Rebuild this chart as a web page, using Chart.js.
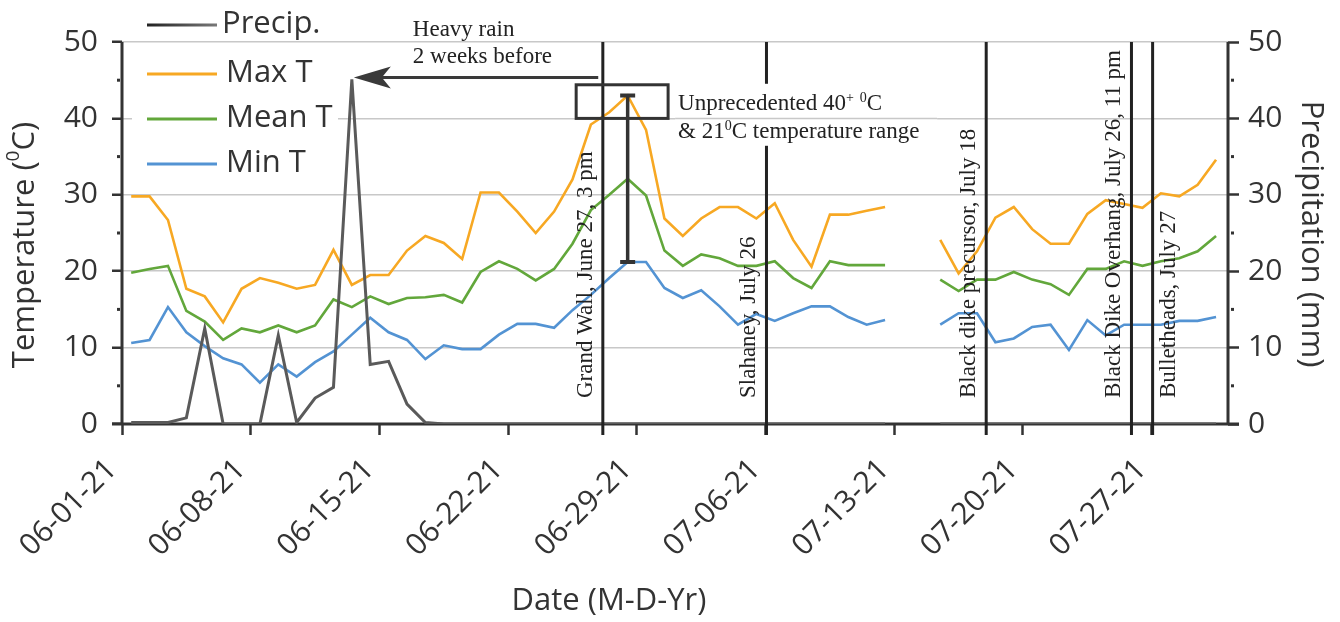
<!DOCTYPE html>
<html>
<head>
<meta charset="utf-8">
<script src="https://cdn.jsdelivr.net/npm/chart.js@4.4.1/dist/chart.umd.min.js"></script>
<style>
  html, body { margin: 0; padding: 0; background: #fff; }
  #wrap { width: 1340px; height: 622px; }
</style>
</head>
<body>
<div id="wrap"><canvas id="chart" width="1340" height="622"></canvas></div>
<script>
// daily values, June 1 .. July 30 2021 (null = no record)
const tickDays = [0, 7, 14, 21, 28, 35, 42, 49, 56];
const dayLabels = ["06-01-21", "06-08-21", "06-15-21", "06-22-21", "06-29-21", "07-06-21", "07-13-21", "07-20-21", "07-27-21"];

const precip = [0.2, 0.2, 0.2, 0.8, 12.5, 0, 0, 0, 11.6, 0.2, 3.4, 4.8, 45.1, 7.8, 8.2, 2.6, 0.2, 0, 0, 0,
  0, 0, 0, 0, 0, 0, 0, 0, 0, 0, 0, 0, 0, 0, 0, 0, 0, 0, 0, 0,
  0, 0, null, null, 0, 0, 0, 0, 0, 0, 0, 0, 0, 0, 0, 0, 0, 0, 0, 0];
const maxT = [29.8, 29.8, 26.7, 17.7, 16.7, 13.3, 17.7, 19.1, 18.5, 17.7, 18.2, 22.8, 18.2, 19.5, 19.5, 22.7, 24.6, 23.7, 21.6, 30.3,
  30.3, 27.8, 25.0, 27.8, 32.0, 39.2, 40.8, 43.0, 38.5, 26.9, 24.6, 26.9, 28.4, 28.4, 26.9, 28.9, 24.1, 20.6, 27.4, 27.4,
  27.9, 28.4, null, null, 24.1, 19.7, 22.6, 27.0, 28.4, 25.5, 23.6, 23.6, 27.5, 29.3, 28.8, 28.3, 30.2, 29.8, 31.3, 34.6];
const meanT = [19.8, 20.3, 20.7, 14.8, 13.4, 11.0, 12.5, 12.0, 12.9, 12.0, 12.9, 16.3, 15.3, 16.7, 15.7, 16.5, 16.6, 16.9, 15.9, 19.9,
  21.3, 20.3, 18.8, 20.3, 23.6, 28.0, 30.0, 32.1, 29.9, 22.7, 20.7, 22.2, 21.7, 20.7, 20.7, 21.3, 19.1, 17.8, 21.3, 20.8,
  20.8, 20.8, null, null, 18.9, 17.4, 18.9, 18.9, 19.9, 18.9, 18.3, 16.9, 20.3, 20.3, 21.3, 20.7, 21.3, 21.7, 22.6, 24.6];
const minT = [10.6, 11.0, 15.3, 12.0, 10.2, 8.6, 7.8, 5.4, 7.8, 6.2, 8.1, 9.5, 11.7, 13.9, 12.0, 11.0, 8.5, 10.3, 9.8, 9.8,
  11.7, 13.1, 13.1, 12.6, 14.9, 16.9, 19.1, 21.2, 21.2, 17.8, 16.5, 17.5, 15.4, 13.0, 14.4, 13.5, 14.5, 15.4, 15.4, 14.0,
  13.0, 13.6, null, null, 13.0, 14.5, 14.5, 10.7, 11.2, 12.7, 13.0, 9.7, 13.6, 11.6, 13.0, 13.0, 13.0, 13.5, 13.5, 14.0];

// climbing events (days after June 1)
const eventDays = [26.15, 35.05, 47.0, 54.9, 56.05];
const eventLabels = ["Grand Wall, June 27, 3 pm", "Slahaney, July 26", "Black dike precursor, July 18",
  "Black Dike Overhang, July 26, 11 pm", "Bulletheads, July 27"];

const heatDay = 27;              // day of the 43 / 21 range bar
const heatBoxDays = [24.7, 29.7];
const heatBoxTemps = [40.0, 44.4];
const arrowFromDay = 25.9;

const SANS = "'Open Sans', 'Noto Sans', sans-serif";
const SERIF = "'Liberation Serif', 'DejaVu Serif', serif";
const INK = "#333333";
const colors = { precip: "#5a5a5a", max: "#f7a823", mean: "#62a73b", min: "#5393d3" };

const series = (arr) => arr.map((v, i) => ({ x: i + 0.5, y: v }));

function richWidth(ctx, parts, size, family) {
  let w = 0;
  for (const p of parts) {
    ctx.font = `${p.sup ? Math.round(size * 0.62) : size}px ${family}`;
    w += ctx.measureText(p.t).width;
  }
  return w;
}

function drawRich(ctx, parts, x, y, size, family) {
  let cx = x;
  for (const p of parts) {
    const s = p.sup ? Math.round(size * 0.62) : size;
    ctx.font = `${s}px ${family}`;
    ctx.fillText(p.t, cx, p.sup ? y - size * 0.36 : y);
    cx += ctx.measureText(p.t).width;
  }
}

const decor = {
  id: "decor",
  beforeDatasetsDraw(chart) {
    const { ctx, chartArea: a } = chart;
    ctx.save();
    ctx.strokeStyle = INK;
    ctx.lineWidth = 3;
    ctx.beginPath();
    ctx.moveTo(a.left, a.top); ctx.lineTo(a.left, a.bottom);
    ctx.moveTo(a.right, a.top); ctx.lineTo(a.right, a.bottom);
    ctx.moveTo(a.left - 10, a.bottom); ctx.lineTo(a.right + 11, a.bottom);
    ctx.stroke();
    // minor ticks
    const y = chart.scales.y;
    ctx.fillStyle = INK;
    for (let v = 5; v < 50; v += 10) {
      const py = y.getPixelForValue(v);
      ctx.fillRect(a.left - 5, py - 1.5, 3, 3);
      ctx.fillRect(a.right + 3, py - 1.5, 3, 3);
    }
    ctx.restore();
  },
  afterDatasetsDraw(chart) {
    const { ctx, chartArea: a, scales } = chart;
    const x = scales.x, y = scales.y, y2 = scales.y2;
    ctx.save();

    // legend
    ctx.fillStyle = "#fff";
    ctx.fillRect(132, 50, 206, 130);
    const legend = [["Precip.", colors.precip, 25], ["Max T", colors.max, 74], ["Mean T", colors.mean, 119], ["Min T", colors.min, 164]];
    ctx.textBaseline = "middle";
    ctx.textAlign = "left";
    for (const [label, col, ly] of legend) {
      if (label === "Precip.") {
        const g = ctx.createLinearGradient(147, 0, 216, 0);
        g.addColorStop(0, "#222"); g.addColorStop(1, "#777");
        ctx.strokeStyle = g;
      } else ctx.strokeStyle = col;
      ctx.lineWidth = 3;
      ctx.beginPath(); ctx.moveTo(147, ly); ctx.lineTo(217, ly); ctx.stroke();
      ctx.fillStyle = INK;
      ctx.font = `31px ${SANS}`;
      ctx.fillText(label, label === "Precip." ? 222 : 226, ly - 1);
    }

    // event lines
    ctx.strokeStyle = "#222";
    ctx.lineWidth = 3;
    eventDays.forEach((d) => {
      const px = x.getPixelForValue(d);
      ctx.beginPath(); ctx.moveTo(px, a.top); ctx.lineTo(px, a.bottom + 11); ctx.stroke();
    });

    // unprecedented heat box + range bar
    const bx0 = x.getPixelForValue(heatBoxDays[0]), bx1 = x.getPixelForValue(heatBoxDays[1]);
    const by0 = y.getPixelForValue(heatBoxTemps[1]), by1 = y.getPixelForValue(heatBoxTemps[0]);
    ctx.strokeStyle = INK;
    ctx.lineWidth = 3;
    ctx.strokeRect(bx0, by0, bx1 - bx0, by1 - by0);
    const ex = x.getPixelForValue(heatDay + 0.5);
    const eTop = y.getPixelForValue(maxT[heatDay]), eBot = y.getPixelForValue(minT[heatDay]);
    ctx.lineWidth = 3.5;
    ctx.beginPath(); ctx.moveTo(ex, eTop); ctx.lineTo(ex, eBot); ctx.stroke();
    ctx.lineWidth = 4;
    ctx.beginPath();
    ctx.moveTo(ex - 7.5, eTop); ctx.lineTo(ex + 7.5, eTop);
    ctx.moveTo(ex - 7.5, eBot); ctx.lineTo(ex + 7.5, eBot);
    ctx.stroke();

    // text next to the box
    const tx = bx1 + 10;
    ctx.fillStyle = "#fff";
    ctx.fillRect(tx - 3, by0 - 1, 262, 62);
    const g40 = y.getPixelForValue(40);
    ctx.strokeStyle = "#c8c8c8"; ctx.lineWidth = 1.5;
    ctx.beginPath(); ctx.moveTo(tx - 3, g40); ctx.lineTo(tx + 259, g40); ctx.stroke();
    ctx.fillStyle = "#222";
    ctx.textBaseline = "alphabetic";
    drawRich(ctx, [{ t: "Unprecedented 40" }, { t: "+", sup: true }, { t: " " }, { t: "0", sup: true }, { t: "C" }], tx, by1 - 8, 23, SERIF);
    drawRich(ctx, [{ t: "& 21" }, { t: "0", sup: true }, { t: "C temperature range" }], tx, by1 + 20, 23, SERIF);

    // heavy rain arrow
    const peakIdx = precip.indexOf(Math.max(...precip.filter((v) => v !== null)));
    const tipX = x.getPixelForValue(peakIdx + 0.5), tipY = y2.getPixelForValue(precip[peakIdx]) - 2;
    const tailX = x.getPixelForValue(arrowFromDay);
    ctx.strokeStyle = "#3a3a3a"; ctx.fillStyle = "#3a3a3a"; ctx.lineWidth = 3;
    ctx.beginPath(); ctx.moveTo(tailX, tipY); ctx.lineTo(tipX + 25, tipY); ctx.stroke();
    ctx.beginPath();
    ctx.moveTo(tipX + 2, tipY);
    ctx.lineTo(tipX + 39, tipY - 11);
    ctx.lineTo(tipX + 30, tipY);
    ctx.lineTo(tipX + 39, tipY + 11);
    ctx.closePath(); ctx.fill();
    ctx.fillStyle = "#222";
    ctx.font = `23px ${SERIF}`;
    ctx.fillText("Heavy rain", tipX + 61, tipY - 41);
    ctx.fillText("2 weeks before", tipX + 61, tipY - 14);

    // event labels, vertical
    const offs = [-11, -11, -11, -11, 22];
    eventDays.forEach((d, i) => {
      const px = x.getPixelForValue(d) + offs[i];
      ctx.save();
      ctx.translate(px, a.bottom - 26);
      ctx.rotate(-Math.PI / 2);
      ctx.font = `23px ${SERIF}`;
      ctx.fillStyle = "#222";
      ctx.textAlign = "left";
      ctx.fillText(eventLabels[i], 0, 0);
      ctx.restore();
    });

    // axis titles
    ctx.fillStyle = INK;
    ctx.textBaseline = "middle";
    const tParts = [{ t: "Temperature (" }, { t: "0", sup: true }, { t: "C)" }];
    const tw = richWidth(ctx, tParts, 31, SANS);
    ctx.save();
    ctx.translate(25, 245);
    ctx.rotate(-Math.PI / 2);
    ctx.textAlign = "left";
    drawRich(ctx, tParts, -tw / 2, 0, 31, SANS);
    ctx.restore();

    ctx.save();
    ctx.translate(1311, 234);
    ctx.rotate(Math.PI / 2);
    ctx.textAlign = "center";
    ctx.font = `31px ${SANS}`;
    ctx.fillText("Precipitation (mm)", 0, 0);
    ctx.restore();

    ctx.textAlign = "center";
    ctx.font = `31px ${SANS}`;
    ctx.fillText("Date (M-D-Yr)", 609, 601);
    ctx.restore();
  }
};

const yTickFont = { family: SANS, size: 30 };
const xTickFont = { family: SANS, size: 30 };

function draw() {
  new Chart(document.getElementById("chart"), {
    type: "line",
    data: {
      datasets: [
        { label: "Precip.", data: series(precip), yAxisID: "y2", borderColor: colors.precip, borderWidth: 3 },
        { label: "Max T", data: series(maxT), yAxisID: "y", borderColor: colors.max, borderWidth: 2.6 },
        { label: "Mean T", data: series(meanT), yAxisID: "y", borderColor: colors.mean, borderWidth: 2.6 },
        { label: "Min T", data: series(minT), yAxisID: "y", borderColor: colors.min, borderWidth: 2.6 },
      ],
    },
    options: {
      responsive: false,
      animation: false,
      devicePixelRatio: 1,
      layout: { padding: { top: 42 } },
      plugins: { legend: { display: false }, tooltip: { enabled: false } },
      elements: { point: { radius: 0 }, line: { tension: 0, borderJoinStyle: "miter", fill: false } },
      scales: {
        x: {
          type: "linear", min: 0, max: 60.15,
          afterBuildTicks: (s) => { s.ticks = tickDays.map((v) => ({ value: v })); },
          afterFit: (s) => { s.height = 198; },
          border: { display: false },
          grid: { drawOnChartArea: false, drawTicks: true, tickLength: 11, tickColor: INK, tickWidth: 2.5 },
          ticks: { autoSkip: false, minRotation: 45, maxRotation: 45, font: xTickFont, color: INK, padding: 17,
            labelOffset: -10, callback: (v) => dayLabels[tickDays.indexOf(v)] },
        },
        y: {
          position: "left", min: 0, max: 50,
          afterFit: (s) => { s.width = 122; },
          border: { display: false },
          grid: { color: "#c8c8c8", lineWidth: 1.5, tickLength: 10, tickColor: INK, tickWidth: 2.5 },
          ticks: { stepSize: 10, font: yTickFont, color: INK, padding: 14 },
        },
        y2: {
          position: "right", min: 0, max: 50,
          afterFit: (s) => { s.width = 112; },
          border: { display: false },
          grid: { drawOnChartArea: false, tickLength: 11, tickColor: INK, tickWidth: 2.5 },
          ticks: { stepSize: 10, font: yTickFont, color: INK, padding: 9 },
        },
      },
    },
    plugins: [decor],
  });
}

Promise.all([
  document.fonts.load(`29px 'Open Sans'`),
  document.fonts.load(`22px 'Liberation Serif'`),
]).catch(() => {}).then(draw);
</script>
</body>
</html>
